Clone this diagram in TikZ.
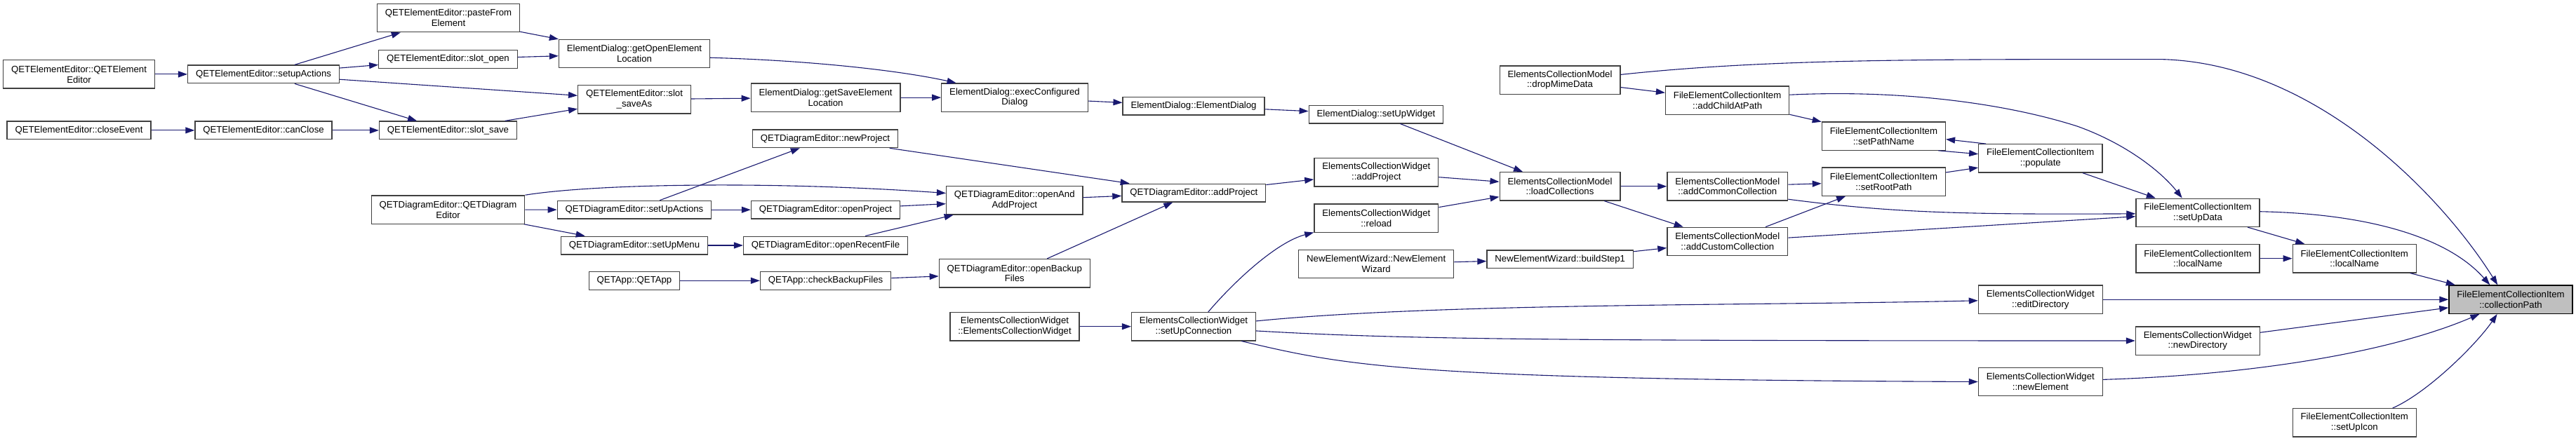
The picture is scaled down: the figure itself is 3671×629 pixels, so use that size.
\documentclass[tikz,border=0pt]{standalone}
\usepackage{fontspec}
\setmainfont{Liberation Sans}
\usepackage{tikz}
\usetikzlibrary{arrows.meta}
\definecolor{edgeblue}{HTML}{191970}
\definecolor{nodeline}{HTML}{404040}
\definecolor{rootfill}{HTML}{BFBFBF}
\newcommand{\fnfont}{\fontsize{13.2}{14.8}\selectfont}
\tikzset{
  callbox/.style={draw=nodeline,line width=1.3pt,fill=white,font=\fnfont,
    inner xsep=11.4pt,inner ysep=0pt},
  callone/.style={callbox,minimum height=25.7pt,text height=9.6pt,text depth=2.8pt},
  calltwo/.style={callbox,align=center,minimum height=40.3pt},
  calltarget/.style={calltwo,fill=rootfill,draw=black},
  % --- caller edge: arrow points at the called function ---
  call/.style={-{Triangle[length=13pt,width=9pt]},line width=1.1pt,draw=edgeblue},
}
\begin{document}
\begin{tikzpicture}[x=1pt,y=-1pt]
  \path[fill=white,use as bounding box] (0,0) rectangle (3671,629);
  \node[calltwo] (eeCtor) at (112.5,105.9){QETElementEditor::QETElement\\Editor};
  \node[callone] (eeClose) at (112.5,185.9){QETElementEditor::closeEvent};
  \node[callone] (eeSetup) at (375.5,105.9){QETElementEditor::setupActions};
  \node[callone] (eeCanClose) at (375.5,185.9){QETElementEditor::canClose};
  \node[calltwo] (eePaste) at (639,25.6){QETElementEditor::pasteFrom\\Element};
  \node[callone] (eeOpen) at (638.5,84.4){QETElementEditor::slot\_open};
  \node[callone] (eeSave) at (638.5,185.9){QETElementEditor::slot\_save};
  \node[calltwo] (deCtor) at (638.5,299){QETDiagramEditor::QETDiagram\\Editor};
  \node[calltwo] (dlgOpenLoc) at (904,76.6){ElementDialog::getOpenElement\\Location};
  \node[calltwo] (eeSaveAs) at (904,141.8){QETElementEditor::slot\\\_saveAs};
  \node[callone] (deActions) at (904,299.2){QETDiagramEditor::setUpActions};
  \node[callone] (deMenu) at (904,350){QETDiagramEditor::setUpMenu};
  \node[callone] (appCtor) at (904,400.3){QETApp::QETApp};
  \node[calltwo] (dlgSaveLoc) at (1176.6,139.1){ElementDialog::getSaveElement\\Location};
  \node[callone] (deNewProj) at (1176,197.8){QETDiagramEditor::newProject};
  \node[callone] (deOpenProj) at (1176.5,299.2){QETDiagramEditor::openProject};
  \node[callone] (deRecent) at (1176.6,350){QETDiagramEditor::openRecentFile};
  \node[callone] (appBackup) at (1176.6,400.3){QETApp::checkBackupFiles};
  \node[calltwo] (dlgExec) at (1446,139.1){ElementDialog::execConfigured\\Dialog};
  \node[calltwo] (deOpenAdd) at (1445.8,285.8){QETDiagramEditor::openAnd\\AddProject};
  \node[calltwo] (deBackup) at (1445.8,389.7){QETDiagramEditor::openBackup\\Files};
  \node[calltwo] (cwCtor) at (1446,465.7){ElementsCollectionWidget\\::ElementsCollectionWidget};
  \node[callone] (dlgCtor) at (1701,151.2){ElementDialog::ElementDialog};
  \node[callone] (deAddProj) at (1701.3,275.1){QETDiagramEditor::addProject};
  \node[calltwo] (cwConn) at (1701,465.7){ElementsCollectionWidget\\::setUpConnection};
  \node[callone] (dlgWidget) at (1961,163){ElementDialog::setUpWidget};
  \node[calltwo] (cwAddProj) at (1961.3,245.9){ElementsCollectionWidget\\::addProject};
  \node[calltwo] (cwReload) at (1961.3,311){ElementsCollectionWidget\\::reload};
  \node[calltwo] (wizCtor) at (1961.2,376.5){NewElementWizard::NewElement\\Wizard};
  \node[calltwo] (cmDrop) at (2223,114){ElementsCollectionModel\\::dropMimeData};
  \node[calltwo] (cmLoad) at (2223,265.8){ElementsCollectionModel\\::loadCollections};
  \node[callone] (wizStep) at (2223.2,369.9){NewElementWizard::buildStep1};
  \node[calltwo] (fiAddChild) at (2461.6,143){FileElementCollectionItem\\::addChildAtPath};
  \node[calltwo] (cmCommon) at (2461.8,265.8){ElementsCollectionModel\\::addCommonCollection};
  \node[calltwo] (cmCustom) at (2461.8,344.4){ElementsCollectionModel\\::addCustomCollection};
  \node[calltwo] (fiPathName) at (2684.4,194){FileElementCollectionItem\\::setPathName};
  \node[calltwo] (fiRootPath) at (2684.4,259.1){FileElementCollectionItem\\::setRootPath};
  \node[calltwo] (fiPopulate) at (2907.8,225.9){FileElementCollectionItem\\::populate};
  \node[calltwo] (cwEditDir) at (2907.8,427.2){ElementsCollectionWidget\\::editDirectory};
  \node[calltwo] (cwNewElem) at (2907.8,544.5){ElementsCollectionWidget\\::newElement};
  \node[calltwo] (fiSetUpData) at (3132,303.3){FileElementCollectionItem\\::setUpData};
  \node[calltwo] (fiLocalA) at (3132,368.7){FileElementCollectionItem\\::localName};
  \node[calltwo] (cwNewDir) at (3131.8,486){ElementsCollectionWidget\\::newDirectory};
  \node[calltwo] (fiLocalB) at (3355.3,368.7){FileElementCollectionItem\\::localName};
  \node[calltwo] (fiIcon) at (3355.3,602.9){FileElementCollectionItem\\::setUpIcon};
  \node[calltarget] (fiPath) at (3578,427.2){FileElementCollectionItem\\::collectionPath};
  \foreach \a/\b in {eeCtor/eeSetup,eeSetup/eePaste,eeSetup/eeOpen,eeSetup/eeSaveAs,
      eeSetup/eeSave,eeClose/eeCanClose,eeCanClose/eeSave,eePaste/dlgOpenLoc,
      eeOpen/dlgOpenLoc,eeSave/eeSaveAs,eeSaveAs/dlgSaveLoc,dlgSaveLoc/dlgExec,
      dlgExec/dlgCtor,dlgCtor/dlgWidget,dlgWidget/cmLoad,cwAddProj/cmLoad,
      cwReload/cmLoad,cmLoad/cmCommon,cmLoad/cmCustom,deCtor/deActions,deCtor/deMenu,
      deActions/deNewProj,deActions/deOpenProj,deMenu/deRecent,appCtor/appBackup,
      deNewProj/deAddProj,deOpenProj/deOpenAdd,deRecent/deOpenAdd,appBackup/deBackup,
      deOpenAdd/deAddProj,deBackup/deAddProj,deAddProj/cwAddProj,cwCtor/cwConn,
      wizCtor/wizStep,wizStep/cmCustom,cmDrop/fiAddChild,fiAddChild/fiPathName,
      cmCommon/fiRootPath,cmCustom/fiRootPath,cmCustom/fiSetUpData,fiRootPath/fiPopulate,
      fiPopulate/fiSetUpData,fiSetUpData/fiLocalB,fiLocalA/fiLocalB,fiLocalB/fiPath,
      cwEditDir/fiPath,cwNewDir/fiPath}
    \draw[call] (\a) -- (\b);
  \draw[call] (fiPopulate.165.7) -- (fiPathName.357.6);
  \draw[call] (fiPathName.345.9) -- (fiPopulate.176.5);
  \draw[call] (dlgOpenLoc.357.8) .. controls (1150,86) and (1280,100) .. (dlgExec.166.8);
  \draw[call] (deCtor.north east) .. controls (850,262) and (1100,258) .. (deOpenAdd.174.6);
  \draw[call] (cwConn.45.7) .. controls (1760,400) and (1820,345) .. (cwReload.193.7);
  \draw[call] (cwConn.5.4) .. controls (2050,432) and (2500,436) .. (cwEditDir.181.8);
  \draw[call] (cwConn.356.1) .. controls (2000,484) and (2200,486) .. (cwNewDir.west);
  \draw[call] (cwConn.343.9) .. controls (1920,522) and (2000,541) .. (cwNewElem.west);
  \draw[call] (cmDrop.5.95) .. controls (2500,86) and (2700,84.6) .. (3000,84.6)
    -- (3080,84.6) .. controls (3300,90) and (3480,280) .. (fiPath.132.8);
  \draw[call] (fiAddChild.5.4) .. controls (2700,128) and (2850,145) .. (2960,180)
    .. controls (3030,205) and (3080,245) .. (fiSetUpData.137.6);
  \draw[call] (cmCommon.348) .. controls (2700,304) and (2800,306) .. (fiSetUpData.181.8);
  \draw[call] (fiSetUpData.1.6) .. controls (3380,305) and (3490,340) .. (fiPath.145.3);
  \draw[call] (cwNewElem.2.7) .. controls (3200,535) and (3400,505) .. (fiPath.205);
  \draw[call] (fiIcon.21.2) .. controls (3460,560) and (3530,490) .. (fiPath.227.2);
\end{tikzpicture}
\end{document}
